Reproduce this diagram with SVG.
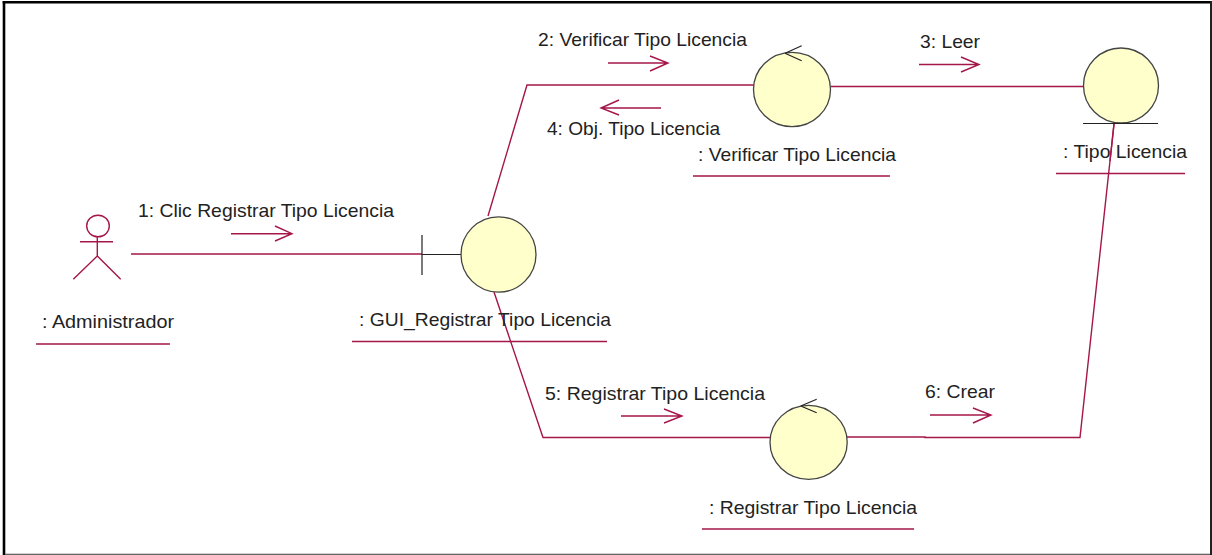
<svg xmlns="http://www.w3.org/2000/svg" width="1212" height="555" viewBox="0 0 1212 555">
<defs><style>
.c{fill:none;stroke:#a5164a;stroke-width:1.4}
.k{fill:none;stroke:#222;stroke-width:1.2}
.b{fill:#ffffcb;stroke:#444;stroke-width:1.3}
text{font-family:"Liberation Sans",Arial,sans-serif;font-size:19px;fill:#222}
</style></defs>
<rect x="0" y="0" width="1212" height="555" fill="#fff"/>
<g id="frame">
<rect x="2.700" y="1" width="2.600" height="554" fill="#000"/>
<rect x="2.700" y="1" width="1209.300" height="2.500" fill="#000"/>
<rect x="1210" y="1" width="2" height="554" fill="#222"/>
<rect x="5" y="553.700" width="1205" height="1.300" fill="#666"/>
</g>
<g id="connectors">
<path class="c" d="M131 254H422"/>
<path class="c" d="M488 216L527 85H754"/>
<path class="c" d="M831 86.500H1083"/>
<path class="c" d="M494 292L543 437.500H770"/>
<path class="c" d="M847 437H925V437.500H1080L1114 124"/>
</g>
<g id="messages">
<path class="c" d="M608 63H668M650 56L668 63L650 71"/>
<text x="538" y="46" textLength="209" lengthAdjust="spacingAndGlyphs">2: Verificar Tipo Licencia</text>
<path class="c" d="M661 108H601M619 100L601 108L619 115"/>
<text x="547" y="135" textLength="173" lengthAdjust="spacingAndGlyphs">4: Obj. Tipo Licencia</text>
<path class="c" d="M919 64.500H979M961 57L979 64.500L961 72"/>
<text x="920" y="48" textLength="60" lengthAdjust="spacingAndGlyphs">3: Leer</text>
<path class="c" d="M231 233.700H292M275 226L292 233.700L275 241"/>
<text x="138" y="217" textLength="256" lengthAdjust="spacingAndGlyphs">1: Clic Registrar Tipo Licencia</text>
<path class="c" d="M621 416H682M664 409L682 416L664 423"/>
<text x="545" y="400" textLength="220" lengthAdjust="spacingAndGlyphs">5: Registrar Tipo Licencia</text>
<path class="c" d="M930 415H991M973 408L991 415L973 423"/>
<text x="925" y="398" textLength="70" lengthAdjust="spacingAndGlyphs">6: Crear</text>
</g>
<g id="administrador">
<ellipse class="c" cx="98" cy="226" rx="11.300" ry="10.800"/>
<path class="c" d="M80 241.700H113M97.300 237V256L73.300 279.300M97.300 256L120.700 279.300"/>
<text x="42" y="328" textLength="132" lengthAdjust="spacingAndGlyphs">: Administrador</text>
<path class="c" d="M36 344H170"/>
</g>
<g id="gui">
<path class="k" d="M422 235V275M422 254.500H461"/>
<ellipse class="b" cx="498.500" cy="254.500" rx="37.500" ry="37.700"/>
<text x="359" y="326" textLength="252" lengthAdjust="spacingAndGlyphs">: GUI_Registrar Tipo Licencia</text>
<path class="c" d="M352 341.500H607"/>
</g>
<g id="verificar">
<ellipse class="b" cx="792" cy="89.500" rx="38.500" ry="37.200"/>
<path class="k" d="M785 53.300L801.700 45.700M785 53.300L801.700 60.700"/>
<text x="698" y="161" textLength="198" lengthAdjust="spacingAndGlyphs">: Verificar Tipo Licencia</text>
<path class="c" d="M693 176H890"/>
</g>
<g id="tipo">
<ellipse class="b" cx="1121" cy="85.500" rx="37.500" ry="37.500"/>
<path class="k" d="M1083 123.500H1158"/>
<text x="1063" y="158" textLength="124" lengthAdjust="spacingAndGlyphs">: Tipo Licencia</text>
<path class="c" d="M1056 173.500H1185"/>
<path class="c" d="M1114 124L1110 161"/>
</g>
<g id="registrar">
<ellipse class="b" cx="808.600" cy="442.300" rx="38.600" ry="37"/>
<path class="k" d="M800.700 406L816.700 399.300M800.700 406L816.700 412.700"/>
<text x="709" y="514" textLength="208" lengthAdjust="spacingAndGlyphs">: Registrar Tipo Licencia</text>
<path class="c" d="M702 529H914"/>
</g>
</svg>
